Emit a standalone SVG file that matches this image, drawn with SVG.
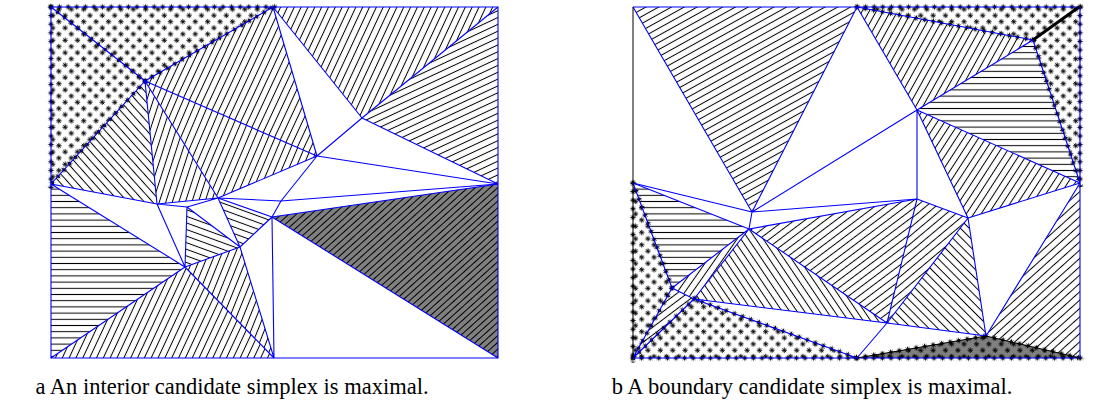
<svg xmlns="http://www.w3.org/2000/svg" xmlns:xlink="http://www.w3.org/1999/xlink" width="1112" height="410" viewBox="0 0 1112 410">
<style>
.e{stroke:#0000ff;stroke-width:1.1;fill:none;stroke-linejoin:round}
.k{stroke:#000;stroke-width:1;fill:none}
.cap{font-family:"Liberation Serif",serif;font-size:22.5px;fill:#000;text-anchor:middle}
.gr{fill:#808080}
</style>
<defs>
<pattern id="hb" width="10" height="6.2" patternUnits="userSpaceOnUse"><rect y="2.6" width="10" height="1" fill="#000"/></pattern>
<pattern id="hb5" width="10" height="5" patternUnits="userSpaceOnUse"><rect y="2" width="10" height="1" fill="#000"/></pattern>
<pattern id="a65" xlink:href="#hb" patternTransform="rotate(-65)"/>
<pattern id="a25" xlink:href="#hb" patternTransform="rotate(-25)"/>
<pattern id="a67" xlink:href="#hb" patternTransform="rotate(-67)"/>
<pattern id="a72" xlink:href="#hb" patternTransform="rotate(-72)"/>
<pattern id="b48" xlink:href="#hb" patternTransform="rotate(48)"/>
<pattern id="a68" xlink:href="#hb" patternTransform="rotate(-68)"/>
<pattern id="b20" xlink:href="#hb" patternTransform="rotate(20)"/>
<pattern id="g42" xlink:href="#hb5" patternTransform="rotate(-42)"/>
<pattern id="a29" xlink:href="#hb" patternTransform="rotate(-29)"/>
<pattern id="a61" xlink:href="#hb" patternTransform="rotate(-61)"/>
<pattern id="a57" xlink:href="#hb" patternTransform="rotate(-57)"/>
<pattern id="a55" xlink:href="#hb" patternTransform="rotate(-55)"/>
<pattern id="a37" xlink:href="#hb" patternTransform="rotate(-37)"/>
<pattern id="b56" xlink:href="#hb" patternTransform="rotate(56)"/>
<pattern id="a40" xlink:href="#hb" patternTransform="rotate(-40)"/>
<pattern id="b45" xlink:href="#hb" patternTransform="rotate(45)"/>
<pattern id="a42" xlink:href="#hb" patternTransform="rotate(-42)"/>
<path id="ast" d="M-2.7,0H2.7M0,-2.7V2.7M-1.9,-1.9L1.9,1.9M-1.9,1.9L1.9,-1.9" stroke="#000" stroke-width="0.9"/>
<pattern id="st" width="8.6" height="8.6" patternUnits="userSpaceOnUse">
<use xlink:href="#ast" x="4.3" y="4.3"/>
</pattern>
<pattern id="sf" width="12.4" height="12.4" patternUnits="userSpaceOnUse">
<use xlink:href="#ast" x="3.1" y="3.1"/>
<use xlink:href="#ast" x="9.3" y="9.3"/>
</pattern>
</defs>

<g id="panel-a">
<g id="a-fills">
<polygon points="51,7 273,7 145,81" fill="url(#sf)"/>
<polygon points="51,7 145,81 51,184" fill="url(#sf)"/>
<polygon points="273,7 145,81 317,156" fill="url(#a65)"/>
<polygon points="273,7 362,118 498,7" fill="url(#a65)"/>
<polygon points="498,7 362,118 498,184" fill="url(#a25)"/>
<polygon points="145,81 317,156 218,198" fill="url(#a67)"/>
<polygon points="145,81 218,198 157,204" fill="url(#a72)"/>
<polygon points="145,81 157,204 51,184" fill="url(#b48)"/>
<polygon points="51,184 185,267 51,358" fill="url(#hb)"/>
<polygon points="51,358 185,267 274,358" fill="url(#a65)"/>
<polygon points="185,267 240,247 274,358" fill="url(#a68)"/>
<polygon points="187,207 240,247 185,267" fill="url(#b20)"/>
<polygon points="218,198 272,217 240,247" fill="url(#b20)"/>
<polygon points="272,217 498,184 498,358" class="gr"/>
<polygon points="272,217 498,184 498,358" fill="url(#g42)"/>
</g>
<g id="a-stars">
<g transform="translate(51,7) translate(-4.3,-4.3)"><rect width="231" height="8.6" fill="url(#st)"/></g>
<g transform="translate(51,7) rotate(90) translate(-4.3,-4.3)"><rect width="186" height="8.6" fill="url(#st)"/></g>
<g transform="translate(51,7) rotate(38.2) translate(-4.3,-4.3)"><rect width="128" height="8.6" fill="url(#st)"/></g>
<g transform="translate(145,81) rotate(-30) translate(-4.3,-4.3)"><rect width="156" height="8.6" fill="url(#st)"/></g>
<g transform="translate(145,81) rotate(132.4) translate(-4.3,-4.3)"><rect width="148" height="8.6" fill="url(#st)"/></g>
</g>
<g id="a-edges" class="e">
<path d="M51,7H498V358H51Z"/>
<path d="M51,7L145,81M273,7L145,81M51,184L145,81M273,7L317,156M273,7L362,118M362,118L498,7M362,118L498,184M362,118L317,156M317,156L498,184M145,81L317,156M145,81L218,198M145,81L157,204"/>
<path d="M51,184L157,204M157,204L218,198M157,204L187,207M187,207L218,198M157,204L185,267M51,184L185,267M51,358L185,267M274,358L185,267M187,207L185,267M187,207L240,247M218,198L240,247M240,247L185,267M240,247L272,217M240,247L274,358M218,198L272,217M272,217L274,358M272,217L498,184M272,217L498,358"/>
<path d="M317,156L218,198M317,156L281,201M281,201L498,184M218,198L281,201M281,201L272,217"/>
</g>
</g>

<g id="panel-b">
<g id="b-fills">
<polygon points="633,7 857,7 752,212" fill="url(#a29)"/>
<polygon points="857,7 917,110 1033,40" fill="url(#a61)"/>
<polygon points="857,7 1033,40 1079,7" fill="url(#sf)"/>
<polygon points="1033,40 1079,7 1080,183" fill="url(#sf)"/>
<polygon points="917,110 1033,40 1080,183" fill="url(#hb)"/>
<polygon points="917,110 1080,183 968,218" fill="url(#a57)"/>
<polygon points="633,183 749,229 672,288" fill="url(#hb)"/>
<polygon points="633,183 672,288 633,358" fill="url(#sf)"/>
<polygon points="672,288 749,229 694,299" fill="url(#a55)"/>
<polygon points="672,288 694,299 633,358" fill="url(#a37)"/>
<polygon points="633,358 694,299 857,358" fill="url(#sf)"/>
<polygon points="694,299 749,229 887,323" fill="url(#b56)"/>
<polygon points="749,229 917,199 887,323" fill="url(#a37)"/>
<polygon points="917,199 968,218 887,323" fill="url(#a40)"/>
<polygon points="968,218 887,323 986,336" fill="url(#b45)"/>
<polygon points="857,358 986,336 1080,358" class="gr"/>
<polygon points="857,358 986,336 1080,358" fill="url(#sf)"/>
<polygon points="986,336 1080,183 1080,358" fill="url(#a42)"/>
</g>
<g id="b-stars">
<g transform="translate(857,7) translate(-4.3,-4.3)"><rect width="231" height="8.6" fill="url(#st)"/></g>
<g transform="translate(1080,7) rotate(90) translate(-4.3,-4.3)"><rect width="184" height="8.6" fill="url(#st)"/></g>
<g transform="translate(857,7) rotate(10.6) translate(-4.3,-4.3)"><rect width="187" height="8.6" fill="url(#st)"/></g>
<g transform="translate(1033,40) rotate(71.8) translate(-4.3,-4.3)"><rect width="159" height="8.6" fill="url(#st)"/></g>
<g transform="translate(633,183) rotate(90) translate(-4.3,-4.3)"><rect width="184" height="8.6" fill="url(#st)"/></g>
<g transform="translate(633,183) rotate(69.6) translate(-4.3,-4.3)"><rect width="120" height="8.6" fill="url(#st)"/></g>
<g transform="translate(672,288) rotate(119.1) translate(-4.3,-4.3)"><rect width="88" height="8.6" fill="url(#st)"/></g>
<g transform="translate(633,358) translate(-4.3,-4.3)"><rect width="456" height="8.6" fill="url(#st)"/></g>
<g transform="translate(633,358) rotate(-44) translate(-4.3,-4.3)"><rect width="93" height="8.6" fill="url(#st)"/></g>
<g transform="translate(694,299) rotate(19.9) translate(-4.3,-4.3)"><rect width="181" height="8.6" fill="url(#st)"/></g>
<g transform="translate(857,358) rotate(-9.7) translate(-4.3,-4.3)"><rect width="139" height="8.6" fill="url(#st)"/></g>
<g transform="translate(986,336) rotate(13.2) translate(-4.3,-4.3)"><rect width="105" height="8.6" fill="url(#st)"/></g>
</g>
<g id="b-edges" class="e">
<path d="M633,7H1080V358H633"/>
<path d="M633,7L752,212M857,7L752,212M633,183L752,212M857,7L917,110M752,212L917,110M857,7L1033,40M917,110L1033,40M1033,40L1080,183M917,110L1080,183M917,110L968,218M968,218L1080,183M917,110L917,199M917,199L968,218M752,212L917,199M752,212L749,229"/>
<path d="M633,183L749,229M749,229L917,199M633,183L672,288M672,288L749,229M749,229L694,299M672,288L694,299M672,288L633,358M694,299L633,358M694,299L887,323M694,299L857,358M749,229L887,323M917,199L887,323M968,218L887,323M968,218L986,336M887,323L986,336M887,323L857,358M986,336L1080,183"/>
</g>
<g id="b-black">
<path class="k" d="M633,7V358"/>
<path d="M1033,40L1079,7" stroke="#000" stroke-width="3"/>
<path class="k" d="M857,358L986,336L1080,358"/>
</g>
</g>

<g id="captions">
<text class="cap" x="232" y="394">a An interior candidate simplex is maximal.</text>
<text class="cap" x="812" y="394">b A boundary candidate simplex is maximal.</text>
</g>
</svg>
